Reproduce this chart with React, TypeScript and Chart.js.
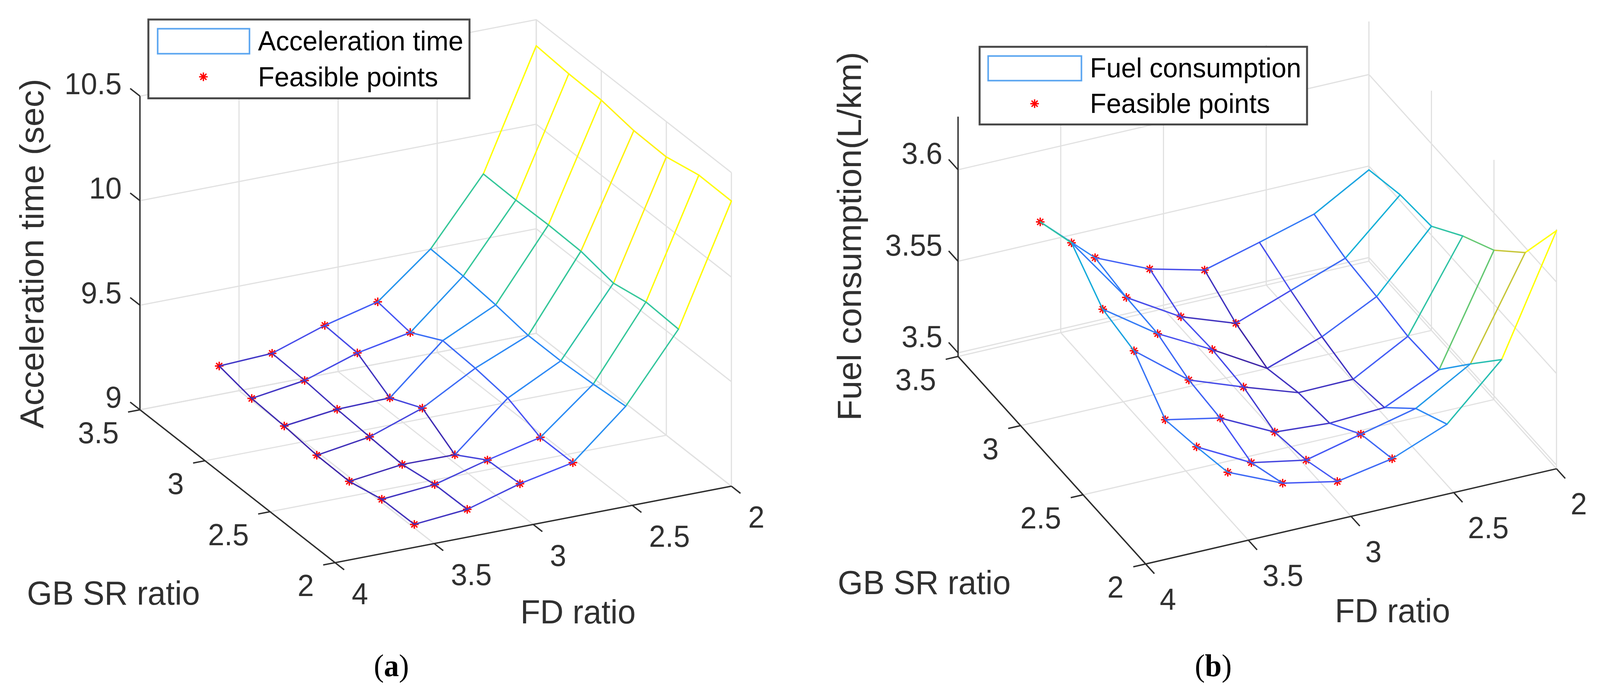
import React, { useEffect, useRef } from 'react';
import { Chart, registerables } from 'chart.js';
import { drawPoint } from 'chart.js/helpers';

Chart.register(...registerables);

// grid of the two sweeps
const fdRatios = [3.6, 3.333, 3.067, 2.8, 2.533, 2.267, 2];
const gbRatios = [2, 2.25, 2.5, 2.75, 3, 3.25, 3.5];

// rows follow gbRatios, columns follow fdRatios
const accelTime = [
  [9.11, 9.133, 9.207, 9.259, 9.48, 9.8, 10.364],
  [9.108, 9.13, 9.198, 9.258, 9.464, 9.808, 10.366],
  [9.072, 9.104, 9.102, 9.324, 9.453, 9.776, 10.331],
  [9.075, 9.114, 9.203, 9.345, 9.453, 9.807, 10.335],
  [9.093, 9.124, 9.13, 9.355, 9.477, 9.811, 10.359],
  [9.103, 9.14, 9.223, 9.272, 9.493, 9.808, 10.363],
  [9.136, 9.148, 9.233, 9.297, 9.501, 9.811, 10.375],
];
const fuelUse = [
  [3.5377, 3.5248, 3.5188, 3.5243, 3.5362, 3.5646, 3.6281],
  [3.5327, 3.5171, 3.5116, 3.5188, 3.5259, 3.5433, 3.5972],
  [3.5286, 3.5226, 3.508, 3.5059, 3.5075, 3.5213, 3.5796],
  [3.5474, 3.5245, 3.5137, 3.5037, 3.5041, 3.5206, 3.5685],
  [3.5512, 3.5309, 3.5153, 3.4981, 3.5084, 3.5234, 3.5549],
  [3.5686, 3.5318, 3.5143, 3.5038, 3.5148, 3.5255, 3.5532],
  [3.5611, 3.5346, 3.5215, 3.514, 3.5222, 3.5307, 3.5479],
];
// first three FD columns are feasible on every row, the fourth only on these rows
const feasibleColumns = [0, 1, 2];
const feasibleRowsColumn3 = [0, 1, 5, 6];

const fdTicks = [4, 3.5, 3, 2.5, 2];
const gbTicks = [2, 2.5, 3, 3.5];
const accelTicks = [9, 9.5, 10, 10.5];
const accelTickLabels = ['9', '9.5', '10', '10.5'];
const fuelTicks = [3.5, 3.55, 3.6];
const fuelTickLabels = ['3.5', '3.55', '3.6'];

// layout is worked out on the 4244 wide reference, the browser may be narrower
const REF_W = 2122;
const PANEL_H = 1768;
const PAGE_W = Math.min(window.innerWidth, REF_W * 2);
const PANEL_W = PAGE_W / 2;
const KX = PANEL_W / REF_W;
const SANS = '"Liberation Sans", Arial, sans-serif';

// piecewise parula, the top end is pushed to the pure yellow of the picture
const parulaStops = [
  [62, 38, 168],
  [72, 82, 244],
  [46, 135, 247],
  [18, 177, 214],
  [55, 200, 151],
  [171, 199, 57],
  [254, 195, 56],
  [255, 255, 0],
];
const parula = (t: number) => {
  const p = Math.min(Math.max(t, 0), 1) * (parulaStops.length - 1);
  const k = Math.min(Math.floor(p), parulaStops.length - 2);
  const f = p - k;
  const c = parulaStops[k].map((v, n) => Math.round(v + (parulaStops[k + 1][n] - v) * f));
  return `rgb(${c[0]}, ${c[1]}, ${c[2]})`;
};

interface PanelProps {
  left: number;
  surface: number[][];
  zTicks: number[];
  zTickLabels: string[];
  zMin: number;
  zMax: number;
  view: { ox: number; oy: number; fx: number; fy: number; gx: number; gy: number; zk: number };
  offsets: { fd: number[]; gb: number[]; z: number[] };
  zTitle: { text: string; x: number; y: number };
  gbTitle: number[];
  fdTitle: number[];
  legend: { box: number[]; swatch: number[]; textX: number; rows: number[]; star: number[]; label: string };
  caption: string;
  captionX: number;
}

function makeConfig(p: PanelProps): any {
  const { view, surface, zMin, zMax } = p;
  const project = (fd: number, gb: number, z: number) => {
    const u = (4 - fd) / 2;
    const v = (gb - 2) / 1.5;
    return {
      x: view.ox + view.fx * u + view.gx * v,
      y: view.oy + view.fy * u + view.gy * v + view.zk * (z - zMin),
    };
  };
  const flat = surface.flat();
  const lo = Math.min(...flat);
  const hi = Math.max(...flat);
  const tone = (z: number) => parula((z - lo) / (hi - lo));

  const greyLine = (data: any[]) => ({
    data, showLine: true, pointRadius: 0, borderColor: '#e1e1e1', borderWidth: 3, order: 5,
  });
  const darkLine = (data: any[]) => ({
    data, showLine: true, pointRadius: 0, borderColor: '#2e2e2e', borderWidth: 3.5, order: 4,
  });
  // flat edge colouring: along FD an edge takes its far vertex, along GB its near one
  const meshLine = (data: any[], edgeVertex: 'p0' | 'p1') => ({
    data,
    showLine: true,
    pointRadius: 0,
    borderWidth: 3.5,
    borderCapStyle: 'round',
    borderJoinStyle: 'round',
    order: 2,
    segment: {
      borderColor: (ctx: any) => tone(ctx[edgeVertex].raw.z),
    },
  });

  const datasets: any[] = [];
  // back walls and floor
  gbTicks.forEach((gb) => {
    datasets.push(greyLine([project(4, gb, zMin), project(2, gb, zMin)]));
    datasets.push(greyLine([project(2, gb, zMin), project(2, gb, zMax)]));
  });
  fdTicks.forEach((fd) => {
    datasets.push(greyLine([project(fd, 2, zMin), project(fd, 3.5, zMin)]));
    datasets.push(greyLine([project(fd, 3.5, zMin), project(fd, 3.5, zMax)]));
  });
  p.zTicks.forEach((z) => {
    datasets.push(greyLine([project(4, 3.5, z), project(2, 3.5, z), project(2, 2, z)]));
  });
  // axes and tick marks
  datasets.push(darkLine([project(4, 3.5, zMax), project(4, 3.5, zMin), project(4, 2, zMin), project(2, 2, zMin)]));
  p.zTicks.forEach((z) => datasets.push(darkLine([project(4, 3.5, z), project(4, 3.575, z)])));
  gbTicks.forEach((gb) => datasets.push(darkLine([project(4, gb, zMin), project(4.06, gb, zMin)])));
  fdTicks.forEach((fd) => datasets.push(darkLine([project(fd, 2, zMin), project(fd, 1.93, zMin)])));
  // mesh, one polyline per column and per row (earlier datasets end up on top)
  fdRatios.forEach((fd, j) => {
    datasets.push(meshLine(gbRatios.map((gb, i) => ({ ...project(fd, gb, surface[i][j]), z: surface[i][j] })), 'p0'));
  });
  gbRatios.forEach((gb, i) => {
    datasets.push(meshLine(fdRatios.map((fd, j) => ({ ...project(fd, gb, surface[i][j]), z: surface[i][j] })), 'p1'));
  });
  // feasible points sit under the mesh lines
  const feasible: any[] = [];
  gbRatios.forEach((gb, i) => {
    feasibleColumns.forEach((j) => feasible.push(project(fdRatios[j], gb, surface[i][j])));
    if (feasibleRowsColumn3.includes(i)) feasible.push(project(fdRatios[3], gb, surface[i][3]));
  });
  datasets.push({
    data: feasible,
    pointStyle: 'star',
    pointRadius: 11,
    pointBorderColor: '#ff0000',
    pointBorderWidth: 3.5,
    showLine: false,
    order: 3,
  });

  const textPlugin = {
    id: 'panelText',
    afterDatasetsDraw(chart: any) {
      const { ctx } = chart;
      const sx = (v: number) => chart.scales.x.getPixelForValue(v);
      const sy = (v: number) => chart.scales.y.getPixelForValue(v);
      // text shrinks sideways together with the x scale
      const put = (text: string, x: number, y: number) => {
        ctx.save();
        ctx.translate(sx(x), sy(y));
        ctx.scale(KX, 1);
        ctx.fillText(text, 0, 0);
        ctx.restore();
      };
      ctx.save();
      ctx.textBaseline = 'middle';
      ctx.fillStyle = '#303030';

      ctx.font = `78px ${SANS}`;
      ctx.textAlign = 'left';
      fdTicks.forEach((fd) => {
        const q = project(fd, 2, zMin);
        put(String(fd), q.x + p.offsets.fd[0], q.y + p.offsets.fd[1]);
      });
      ctx.textAlign = 'right';
      gbTicks.forEach((gb) => {
        const q = project(4, gb, zMin);
        put(String(gb), q.x + p.offsets.gb[0], q.y + p.offsets.gb[1]);
      });
      p.zTicks.forEach((z, n) => {
        const q = project(4, 3.5, z);
        put(p.zTickLabels[n], q.x + p.offsets.z[0], q.y + p.offsets.z[1]);
      });

      ctx.font = `86px ${SANS}`;
      ctx.textAlign = 'center';
      put('GB SR ratio', p.gbTitle[0], p.gbTitle[1]);
      put('FD ratio', p.fdTitle[0], p.fdTitle[1]);
      ctx.save();
      ctx.translate(sx(p.zTitle.x), sy(p.zTitle.y));
      ctx.scale(KX, 1);
      ctx.rotate(-Math.PI / 2);
      ctx.font = `88px ${SANS}`;
      ctx.fillText(p.zTitle.text, 0, 0);
      ctx.restore();

      // legend box
      const lg = p.legend;
      const rect = (r: number[]) => [sx(r[0]), sy(r[1]), sx(r[2]) - sx(r[0]), sy(r[3]) - sy(r[1])];
      const [bx, by, bw, bh] = rect(lg.box);
      ctx.fillStyle = '#ffffff';
      ctx.fillRect(bx, by, bw, bh);
      ctx.lineWidth = 5;
      ctx.strokeStyle = '#484848';
      ctx.strokeRect(bx, by, bw, bh);
      const [wx, wy, ww, wh] = rect(lg.swatch);
      ctx.lineWidth = 4;
      ctx.strokeStyle = '#5aa5f0';
      ctx.strokeRect(wx, wy, ww, wh);
      ctx.fillStyle = '#000000';
      ctx.textAlign = 'left';
      ctx.font = `71px ${SANS}`;
      put(lg.label, lg.textX, lg.rows[0]);
      put('Feasible points', lg.textX, lg.rows[1]);
      ctx.strokeStyle = '#ff0000';
      ctx.lineWidth = 3.5;
      drawPoint(ctx, { pointStyle: 'star', radius: 11, borderWidth: 3.5, rotation: 0 }, sx(lg.star[0]), sy(lg.star[1]));
      ctx.restore();
    },
  };

  return {
    type: 'scatter',
    data: { datasets },
    options: {
      responsive: false,
      animation: false,
      devicePixelRatio: 1,
      layout: { padding: 0 },
      plugins: { legend: { display: false }, tooltip: { enabled: false } },
      scales: {
        x: { type: 'linear', display: false, min: 0, max: REF_W },
        y: { type: 'linear', display: false, min: 0, max: PANEL_H, reverse: true },
      },
    },
    plugins: [textPlugin],
  };
}

function Panel(props: PanelProps) {
  const canvasRef = useRef<HTMLCanvasElement>(null);

  useEffect(() => {
    if (!canvasRef.current) return;
    const chart = new Chart(canvasRef.current, makeConfig(props));
    return () => chart.destroy();
  }, []);

  return (
    <div style={{ position: 'absolute', left: props.left, top: 0, width: PANEL_W, height: PANEL_H }}>
      <canvas ref={canvasRef} width={PANEL_W} height={PANEL_H} style={{ width: PANEL_W, height: PANEL_H, display: 'block' }} />
      <div
        style={{
          position: 'absolute',
          left: props.captionX * KX - 100,
          width: 200,
          top: 1658,
          textAlign: 'center',
          font: '80px "Liberation Serif", serif',
          color: '#000',
          transform: `scaleX(${KX})`,
        }}
      >
        (<b>{props.caption}</b>)
      </div>
    </div>
  );
}

export default function App() {
  return (
    <div style={{ position: 'absolute', left: 0, top: 0, width: PAGE_W, height: PANEL_H, background: '#fff', overflow: 'hidden' }}>
      <Panel
        left={0}
        surface={accelTime}
        zTicks={accelTicks}
        zTickLabels={accelTickLabels}
        zMin={9}
        zMax={10.5}
        view={{ ox: 886.3, oy: 1448.9, fx: 1066.3, fy: -198.9, gx: -525, gy: -397.7, zk: -543.9 }}
        offsets={{ fd: [45, 86], gb: [-57, 65], z: [-49, -27] }}
        zTitle={{ text: 'Acceleration time (sec)', x: 77, y: 645 }}
        gbTitle={[290, 1534]}
        fdTitle={[1540, 1583]}
        legend={{ box: [384, 36, 1248, 241], swatch: [409, 60, 656, 125], textX: 679, rows: [97, 190], star: [532, 185], label: 'Acceleration time' }}
        caption="a"
        captionX={1038}
      />
      <Panel
        left={PANEL_W}
        surface={fuelUse}
        zTicks={fuelTicks}
        zTickLabels={fuelTickLabels}
        zMin={3.498}
        zMax={3.629}
        view={{ ox: 914.7, oy: 1452.3, fx: 1105.5, fy: -247.7, gx: -504.7, gy: -539.8, zk: -4761 }}
        offsets={{ fd: [38, 97], gb: [-59, 66], z: [-42, -37] }}
        zTitle={{ text: 'Fuel consumption(L/km)', x: 124.5, y: 600 }}
        gbTitle={[319, 1507]}
        fdTitle={[1579, 1580]}
        legend={{ box: [468, 107, 1349, 309], swatch: [491, 131, 742, 195], textX: 765, rows: [167, 259], star: [616, 255], label: 'Fuel consumption' }}
        caption="b"
        captionX={1096}
      />
    </div>
  );
}
